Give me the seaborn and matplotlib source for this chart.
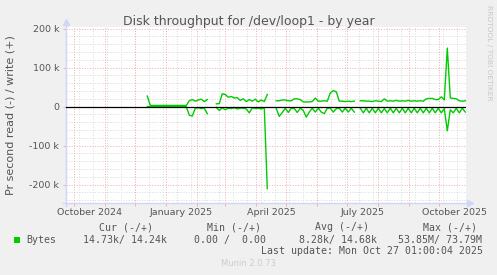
import numpy as np
import pandas as pd
import matplotlib
matplotlib.use("Agg")
import matplotlib.pyplot as plt
import seaborn as sns

nan = np.nan

# ---------------- data (values in k bytes/s, one sample every 3 days) ----------------
sample_start = "2024-12-13"
sample_step = "3D"
write_k = [27, 3, 3, 3, 3, 3, 3, 3, 3, 3, 3, 3, 3, 3,
           15, 18, 14, 17, 19, 13, 18,
           nan, nan,
           7, 8, 33, 31, 24, 26, 22, 23, 16, 20, 13, 18, 14, 19, 12, 17, 13, 31,
           nan, nan,
           15, 15, 17, 17, 15, 15, 20, 20, 18, 12, 12, 12, 13, 22, 14, 14, 15, 14,
           35, 41, 38, 14, 14, 13, 14, 13, 14,
           nan,
           15, 15, 14, 14, 13, 15, 14, 13, 20, 14, 15, 14, 16, 14, 15, 14, 16, 14,
           15, 14, 15, 14, 20, 21, 21, 18, 18, 25, 17, 150, 22, 21, 20, 15, 14, 15]
read_k = [0, 0, 0, 0, 0, 0, 0, 0, 0, 0, 0, 0, 0, 0,
          22, 24, 4, 3, 5, 4, 18,
          nan, nan,
          2, 10, 3, 8, 4, 5, 3, 6, 4, 4, 6, 16, 3, 5, 4, 6, 3, 210,
          nan, nan,
          5, 25, 15, 4, 15, 4, 5, 15, 4, 10, 27, 14, 4, 14, 4, 14, 18, 4,
          4, 14, 5, 4, 14, 4, 14, 4, 14,
          nan,
          4, 16, 4, 16, 4, 16, 4, 16, 5, 16, 4, 16, 4, 16, 4, 16, 4, 16,
          4, 16, 4, 16, 4, 16, 4, 16, 4, 16, 5, 62, 8, 16, 4, 16, 4, 14]

x_label_texts = ["October 2024", "January 2025", "April 2025", "July 2025", "October 2025"]
x_label_dates = ["2024-10-16", "2025-01-16", "2025-04-16", "2025-07-16", "2025-10-16"]
y_tick_values = [-200000, -100000, 0, 100000, 200000]
y_tick_texts = ["-200 k", "-100 k", "0", "100 k", "200 k"]

legend_series = "Bytes"
legend_headers = ["Cur (-/+)", "Min (-/+)", "Avg (-/+)", "Max (-/+)"]
legend_values = ["14.73k/ 14.24k", "0.00 /  0.00", "8.28k/ 14.68k", "53.85M/ 73.79M"]
last_update = "Last update: Mon Oct 27 01:00:04 2025"
title = "Disk throughput for /dev/loop1 - by year"
ylabel = "Pr second read (-) / write (+)"

# ---------------- build table ----------------
dates = pd.date_range(sample_start, periods=len(write_k), freq=sample_step)
df = pd.DataFrame({"date": dates,
                   "write": np.array(write_k, dtype=float) * 1000,
                   "read": np.array(read_k, dtype=float) * 1000})
df["seg"] = df["write"].isna().cumsum()
df = df.dropna().copy()
df["read_neg"] = -df["read"]

# ---------------- figure ----------------
W, H = 497, 275
fig = plt.figure(figsize=(W / 100, H / 100), dpi=100, facecolor="#F0F0F0")
left, right, top, bottom = 66, 466, 27, 203.3
ax = fig.add_axes([left / W, 1 - bottom / H, (right - left) / W, (bottom - top) / H])
ax.set_facecolor("white")

x0 = pd.Timestamp("2024-09-22 17:00")
x1 = pd.Timestamp("2025-10-27 17:00")
ax.set_xlim(x0, x1)
ax.set_ylim(-247700, 204000)

grey = "#dadada"
red = "#f0b0b0"
dot = (0, (1, 1.6))
for h in range(-240000, 204000, 20000):
    ax.axhline(h, color=red if h % 100000 == 0 else grey, lw=0.72, ls=dot, zorder=0.5)
for d in pd.date_range("2024-10-06", "2025-10-27", freq="14D"):
    ax.axvline(d, color=grey, lw=0.72, ls=dot, zorder=0.5)
for d in pd.date_range("2024-10-01", "2025-10-27", freq="MS"):
    ax.axvline(d, color=red, lw=0.72, ls=dot, zorder=0.6)

green = "#00CC00"
sns.lineplot(data=df, x="date", y="write", units="seg", estimator=None,
             color=green, lw=1.0, ax=ax, legend=False, zorder=2)
sns.lineplot(data=df, x="date", y="read_neg", units="seg", estimator=None,
             color=green, lw=1.0, ax=ax, legend=False, zorder=2)
ax.axhline(0, color="black", lw=0.9, zorder=3)

# axes / arrows
for s in ax.spines.values():
    s.set_visible(False)
axis_c = "#CFD6F8"
ax.plot([0, 0], [-0.015, 1.025], transform=ax.transAxes, color=axis_c, lw=1, clip_on=False)
ax.plot([-0.008, 1.008], [0, 0], transform=ax.transAxes, color=axis_c, lw=1, clip_on=False)
ax.plot([0], [1.028], marker="^", ms=4, color=axis_c, transform=ax.transAxes, clip_on=False)
ax.plot([1.01], [0], marker=">", ms=4, color=axis_c, transform=ax.transAxes, clip_on=False)

txt_c = "#555555"
ax.set_xticks([pd.Timestamp(d) for d in x_label_dates])
ax.set_xticklabels(x_label_texts)
ax.set_xticks(list(pd.date_range("2024-10-01", "2025-10-27", freq="MS")), minor=True)
ax.tick_params(axis="x", which="major", length=0, pad=3.4, labelsize=6.8, labelcolor=txt_c)
ax.tick_params(axis="x", which="minor", length=2.2, width=0.7, color=red, direction="out")

ax.set_yticks(y_tick_values)
ax.set_yticklabels(y_tick_texts)
ax.tick_params(axis="y", which="major", length=2.2, width=0.7, color=red, pad=2.8,
               labelsize=6.8, labelcolor=txt_c)
ax.set_xlabel("")
ax.set_ylabel("")

# texts
fig.text(248.5 / W, 1 - 25 / H, title, ha="center", va="baseline", fontsize=9, color=txt_c)
fig.text(11 / W, 1 - 115 / H, ylabel, rotation=90, ha="center", va="center", fontsize=8, color=txt_c)
fig.text(488.5 / W, 1 - 5 / H, "RRDTOOL / TOBI OETIKER", rotation=270, ha="center", va="top",
         fontsize=5.4, color="#c8c8c8")

mono = "DejaVu Sans Mono"
fs = 7.1
header_x = [99, 206.7, 315, 422.7]
value_x = [83.3, 194.3, 299, 398.3]
for hx, t in zip(header_x, legend_headers):
    fig.text(hx / W, 1 - 227.5 / H, t, ha="left", va="center", family=mono, fontsize=fs, color=txt_c)
fig.patches.append(plt.Rectangle((14 / W, 1 - 243.3 / H), 6 / W, 6 / H, transform=fig.transFigure,
                                 facecolor=green, edgecolor="none"))
fig.text(26.7 / W, 1 - 240 / H, legend_series, ha="left", va="center", family=mono, fontsize=fs, color=txt_c)
for vx, t in zip(value_x, legend_values):
    fig.text(vx / W, 1 - 240 / H, t, ha="left", va="center", family=mono, fontsize=fs, color=txt_c)
fig.text(482.7 / W, 1 - 251.3 / H, last_update, ha="right", va="center", family=mono, fontsize=fs, color=txt_c)
fig.text(248 / W, 1 - 264 / H, "Munin 2.0.73", ha="center", va="center", fontsize=6, color="#cccccc")

fig.savefig("out.png", dpi=100, facecolor=fig.get_facecolor())
